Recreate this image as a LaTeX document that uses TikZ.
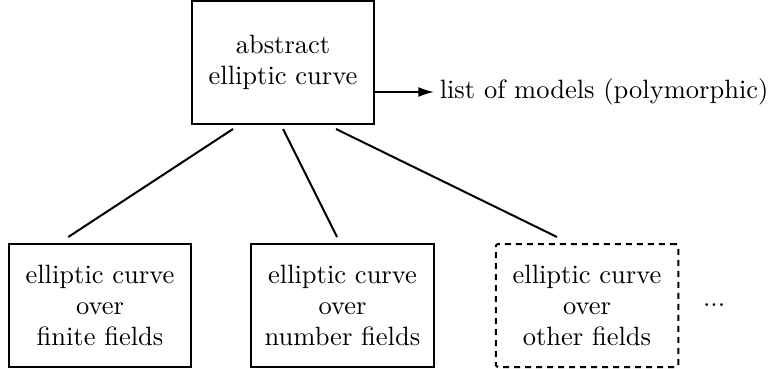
\documentclass[tikz,border=0pt]{standalone}
\usepackage{amsmath}
\usetikzlibrary{positioning,arrows.meta}

\begin{document}
\begin{tikzpicture}[font=\fontsize{10.6pt}{12.4pt}\selectfont, node distance = {23.2pt}, main/.style = {draw, line width=0.8pt, minimum width=73pt, minimum height=49.2pt, align=center}]
	\useasboundingbox (-40pt,-25pt) rectangle (269.2pt,122.2pt);
	\node[main] (2) at (0,0) {elliptic curve\\over\\finite fields};
	\node[main] (3) [right=of 2] {elliptic curve\\over\\number fields};
	\node[main, dash pattern=on 2.4pt off 2pt, rounded corners=1pt] (4) [right=24pt of 3] {elliptic curve\\over\\other fields};
	\node (6) [right=6pt of 4] {...};
	\node[main] (1) [above=47.2pt of 3, xshift=-23.8pt] {abstract\\elliptic curve};
	\coordinate (a) at ([yshift=-11.8pt]1.east);
	\node (5) [right=23.6pt of a, inner sep=2pt] {list of models (polymorphic)};
	\draw[-{Latex[length=6.4pt, width=4pt]}, line width=0.8pt] (a) -- (5);
	\draw[-, line width=0.8pt] ([xshift=-20pt, yshift=-1.6pt]1.south) -- ([xshift=-12.7pt, yshift=2.4pt]2.north);
	\draw[-, line width=0.8pt] ([xshift=0pt, yshift=-1.6pt]1.south) -- ([xshift=-2.2pt, yshift=2.4pt]3.north);
	\draw[-, line width=0.8pt] ([xshift=21.2pt, yshift=-1.6pt]1.south) -- ([xshift=-12pt, yshift=2.4pt]4.north);
\end{tikzpicture}
\end{document}
